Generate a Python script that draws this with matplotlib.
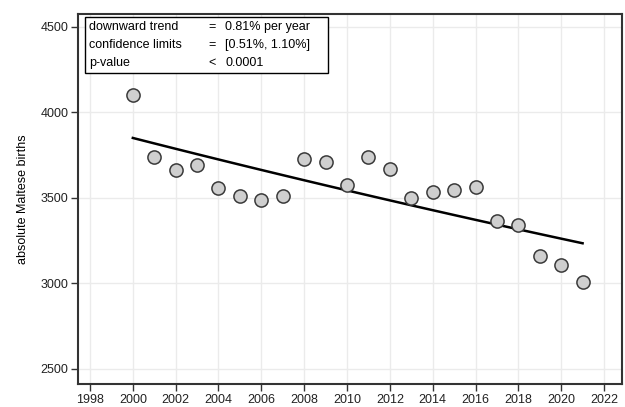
import matplotlib
matplotlib.use("Agg")
import matplotlib.pyplot as plt
from matplotlib.patches import Rectangle
import numpy as np

years = [2000, 2001, 2002, 2003, 2004, 2005, 2006, 2007, 2008, 2009, 2010,
         2011, 2012, 2013, 2014, 2015, 2016, 2017, 2018, 2019, 2020, 2021]
births = [4100, 3740, 3664, 3693, 3558, 3512, 3490, 3512, 3728, 3710, 3578,
          3740, 3670, 3500, 3535, 3547, 3564, 3365, 3342, 3161, 3108, 3009]

stat_names = ["downward trend", "confidence limits", "p-value"]
stat_ops = ["=", "=", "<"]
stat_vals = ["0.81% per year", "[0.51%, 1.10%]", "0.0001"]

# log-linear trend fitted on the data
yr = np.array(years)
coef = np.polyfit(yr, np.log(births), 1)
trend = np.exp(np.polyval(coef, yr))

plt.rcParams['font.family'] = ['Liberation Sans', 'DejaVu Sans']
fig = plt.figure(figsize=(6.25, 4.07), dpi=100)
ax = fig.add_axes([78/625, 23/407, 544/625, 370/407])

ax.plot(yr, trend, color="black", lw=1.8, zorder=3)
ax.scatter(yr, births, s=90, facecolor="#cfcfcf", edgecolor="#3a3a3a", lw=1.1, zorder=4)

ax.set_xlim(1997.44, 2022.84)
ax.set_ylim(2412, 4576)
ax.set_xticks(range(1998, 2023, 2))
ax.set_yticks(range(2500, 4501, 500))
ax.grid(True, color="#ebebeb", lw=1)
ax.set_axisbelow(True)
for s in ax.spines.values():
    s.set_color("#333333")
    s.set_linewidth(1.5)
ax.tick_params(labelsize=9, length=5, width=1, color="#333333", labelcolor="#222222", pad=2)
ax.set_ylabel("absolute Maltese births", fontsize=9, labelpad=8)

ax.add_patch(Rectangle((7/544, 311/370), 243/544, 56/370, transform=ax.transAxes,
                       facecolor="white", edgecolor="black", lw=1, zorder=5))
for i in range(3):
    yy = (357 - 18*i) / 370
    ax.text(11/544, yy, stat_names[i], transform=ax.transAxes, fontsize=9, va="center", zorder=6)
    ax.text(130/544, yy, stat_ops[i], transform=ax.transAxes, fontsize=9, va="center", zorder=6)
    ax.text(147/544, yy, stat_vals[i], transform=ax.transAxes, fontsize=9, va="center", zorder=6)

fig.savefig("out.png", dpi=100)
